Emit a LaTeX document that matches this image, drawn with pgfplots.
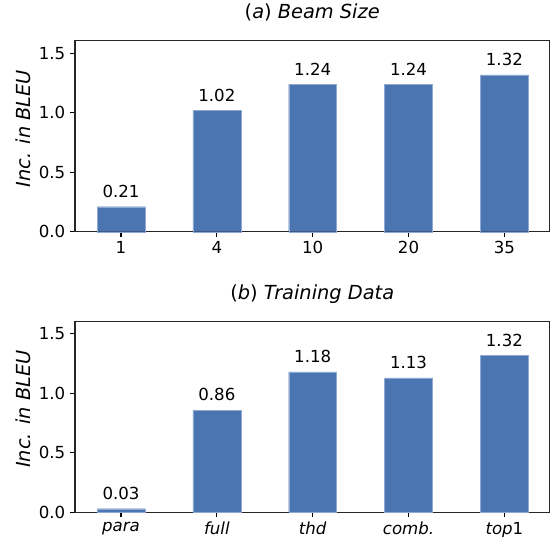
\documentclass[border=0pt]{standalone}
\usepackage{fontspec}
\setmainfont{DejaVu Sans}
\usepackage{pgfplots}
\pgfplotsset{compat=1.18}
\definecolor{barblue}{HTML}{4A75B0}
\definecolor{baredge}{HTML}{8FAAD2}
\pgfplotsset{
  myaxis/.style={
    scale only axis, width=341.6bp, height=137.5bp,
    xmin=-0.48, xmax=4.47, ymin=0, ymax=1.606,
    xtick={0,...,4}, ytick={0,0.5,1,1.5}, yticklabels={0.0,0.5,1.0,1.5},
    tick align=outside, tick pos=left,
    major tick length=3.5bp,
    every tick/.style={black, line width=0.8bp},
    axis line style={black!85, line width=0.8bp},
    ticklabel style={font=\fontsize{12}{14.4}\selectfont},
    ylabel={\textit{Inc. in BLEU}},
    ylabel style={at={(axis description cs:-0.11,0.54)}, anchor=center, font=\fontsize{14}{16.8}\selectfont},
    title style={at={(axis description cs:0.5,1)}, anchor=base, yshift=9.9bp, font=\fontsize{14}{16.8}\selectfont},
    ybar, bar width=0.5,
    nodes near coords, point meta=explicit symbolic,
    every node near coord/.append style={font=\fontsize{12}{14.4}\selectfont, anchor=south, inner sep=0pt, yshift=6.3bp},
    enlargelimits=false, clip=false,
  }
}
\begin{document}
\begin{tikzpicture}
\begin{axis}[myaxis, at={(54bp,219.8bp)}, anchor=south west,
  title={(\textit{a}) \textit{Beam Size}},
  xticklabels={1,4,10,20,35}]
\addplot[fill=barblue, draw=baredge, line width=0.3bp] coordinates {(0,0.21)[0.21] (1,1.02)[1.02] (2,1.24)[1.24] (3,1.24)[1.24] (4,1.32)[1.32]};
\end{axis}
\begin{axis}[myaxis, at={(54bp,17.8bp)}, anchor=south west,
  title={(\textit{b}) \textit{Training Data}},
  xticklabels={\textit{para},\textit{full},\textit{thd},\textit{comb.},\textit{top}1}]
\addplot[fill=barblue, draw=baredge, line width=0.3bp] coordinates {(0,0.03)[0.03] (1,0.86)[0.86] (2,1.18)[1.18] (3,1.13)[1.13] (4,1.32)[1.32]};
\end{axis}
\pgfresetboundingbox
\useasboundingbox (0,0) rectangle (396bp,386.64bp);
\end{tikzpicture}
\end{document}
